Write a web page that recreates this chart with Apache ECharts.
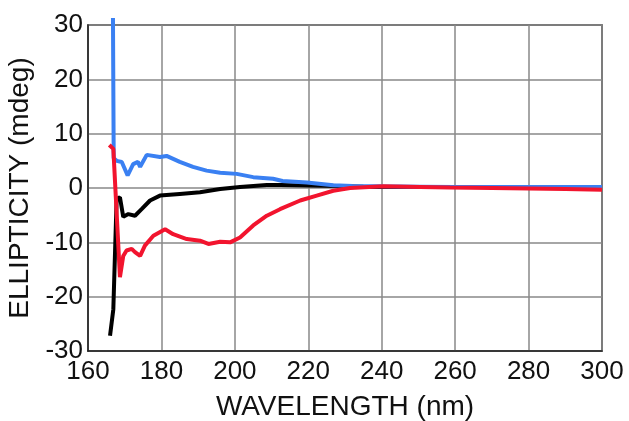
<!DOCTYPE html>
<html>
<head>
<meta charset="utf-8">
<script src="https://cdn.jsdelivr.net/npm/echarts@6/dist/echarts.min.js"></script>
<style>html,body{margin:0;padding:0;background:#fff}#c{width:629px;height:421px}</style>
</head>
<body>
<div id="c"></div>
<script>
var xTicks = [160, 180, 200, 220, 240, 260, 280, 300];
var yTicks = [-30, -20, -10, 0, 10, 20, 30];

var blueX = [166.8, 167.0, 167.8, 169.2, 170.8, 172.3, 173.6, 174.2, 176.0, 179.6, 181.4, 185.0, 188.6, 192.3, 196.0, 200.5, 205.0, 210.4, 213.0, 219.6, 226.8, 232, 240, 250, 260, 270, 280, 290, 300];
var blueY = [31.3, 5.5, 5.0, 4.8, 2.3, 4.4, 4.8, 3.9, 6.1, 5.7, 5.9, 4.8, 3.9, 3.2, 2.8, 2.6, 2.0, 1.7, 1.3, 1.0, 0.5, 0.35, 0.3, 0.25, 0.2, 0.2, 0.2, 0.2, 0.2];

var blackX = [166.0, 166.9, 167.8, 168.7, 169.6, 171.0, 172.8, 174.6, 176.9, 179.6, 185.0, 190.5, 196.0, 201.4, 208.7, 212.3, 220, 228, 235, 240, 250, 260, 270, 280, 290, 300];
var blackY = [-27.2, -22.3, -2.0, -1.7, -5.3, -4.8, -5.1, -3.9, -2.3, -1.4, -1.1, -0.8, -0.2, 0.2, 0.55, 0.55, 0.45, 0.35, 0.25, 0.2, 0.2, 0.2, 0.2, 0.2, 0.15, 0.1];

var redX = [165.8, 166.9, 168.7, 169.6, 170.5, 171.9, 172.8, 174.2, 175.5, 177.8, 181.0, 183.2, 186.9, 190.5, 192.8, 196.0, 198.7, 201.4, 205.0, 208.7, 212.3, 217.8, 222.3, 226.8, 231.4, 240.4, 250.5, 258.6, 270, 280, 290, 300];
var redY = [7.9, 7.2, -16.4, -12.5, -11.5, -11.2, -11.8, -12.5, -10.6, -8.8, -7.6, -8.5, -9.4, -9.7, -10.3, -9.9, -10.0, -9.1, -6.9, -5.1, -3.9, -2.3, -1.4, -0.5, 0.0, 0.3, 0.2, 0.1, 0.0, -0.1, -0.2, -0.3];

function pairs(xs, ys) { return xs.map(function (x, i) { return [x, ys[i]]; }); }

var font = 'Liberation Sans';
var chart = echarts.init(document.getElementById('c'), null, { renderer: 'canvas' });
chart.setOption({
  animation: false,
  backgroundColor: '#fff',
  grid: { left: 88, top: 25, width: 514, height: 326, containLabel: false, outerBoundsMode: 'none', show: true, borderColor: '#222', borderWidth: 1.5, backgroundColor: 'transparent' },
  xAxis: {
    type: 'value', min: xTicks[0], max: xTicks[xTicks.length - 1], interval: 20,
    name: 'WAVELENGTH (nm)', nameLocation: 'middle', nameGap: 42,
    nameTextStyle: { fontFamily: font, fontSize: 28, color: '#111' },
    axisLine: { show: true, onZero: false, lineStyle: { color: '#222', width: 1.5 } },
    axisTick: { show: false },
    axisLabel: { fontFamily: font, fontSize: 26, color: '#111', margin: 8 },
    splitLine: { show: true, lineStyle: { color: '#888', width: 1.5 } }
  },
  yAxis: {
    type: 'value', min: yTicks[0], max: yTicks[yTicks.length - 1], interval: 10,
    name: 'ELLIPTICITY (mdeg)', nameLocation: 'middle', nameGap: 50, nameRotate: 90,
    nameTextStyle: { fontFamily: font, fontSize: 28, color: '#111' },
    axisLine: { show: true, onZero: false, lineStyle: { color: '#222', width: 1.5 } },
    axisTick: { show: false },
    axisLabel: { fontFamily: font, fontSize: 26, color: '#111', margin: 5 },
    splitLine: { show: true, lineStyle: { color: '#888', width: 1.5 } }
  },
  series: [
    { type: 'line', data: pairs(blackX, blackY), showSymbol: false, clip: false, lineStyle: { color: '#000', width: 4 } },
    { type: 'line', data: pairs(blueX, blueY), showSymbol: false, clip: false, lineStyle: { color: '#3a80f2', width: 4 } },
    { type: 'line', data: pairs(redX, redY), showSymbol: false, clip: false, lineStyle: { color: '#f2142e', width: 4 } }
  ]
});
</script>
</body>
</html>
